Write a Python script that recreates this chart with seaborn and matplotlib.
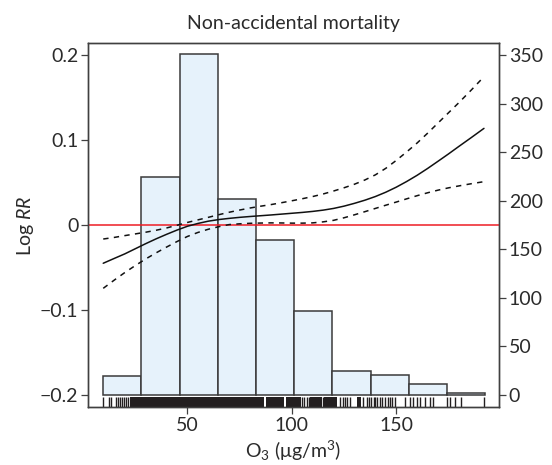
import numpy as np
import matplotlib
matplotlib.use("Agg")
import matplotlib.pyplot as plt
import seaborn as sns

# Exposure-response curve for O3 (log relative risk, with 95% CI)
o3 = [9.7, 15, 20, 25, 30, 35, 40, 45, 50, 55, 60, 65, 70, 75, 80, 85, 90,
      95, 100, 105, 110, 115, 120, 125, 130, 135, 140, 145, 150, 155, 160,
      165, 170, 175, 180, 186, 192]
log_rr = [-0.0450, -0.0393, -0.0340, -0.0280, -0.0220, -0.0163, -0.0110,
          -0.0060, -0.0015, 0.0018, 0.0045, 0.0064, 0.0078, 0.0090, 0.0100,
          0.0109, 0.0118, 0.0128, 0.0138, 0.0148, 0.0160, 0.0175, 0.0195,
          0.0222, 0.0255, 0.0292, 0.0335, 0.0386, 0.0445, 0.0512, 0.0585,
          0.0665, 0.0750, 0.0836, 0.0925, 0.1030, 0.1137]
ci_upper = [-0.0165, -0.0146, -0.0125, -0.0105, -0.0085, -0.0062, -0.0035,
            -0.0003, 0.0030, 0.0060, 0.0090, 0.0121, 0.0150, 0.0176, 0.0200,
            0.0221, 0.0240, 0.0262, 0.0285, 0.0309, 0.0335, 0.0365, 0.0400,
            0.0438, 0.0480, 0.0530, 0.0590, 0.0667, 0.0760, 0.0860, 0.0965,
            0.1080, 0.1200, 0.1320, 0.1440, 0.1590, 0.1745]
ci_lower = [-0.0745, -0.0648, -0.0560, -0.0478, -0.0400, -0.0328, -0.0260,
            -0.0195, -0.0135, -0.0088, -0.0050, -0.0020, 0.0005, 0.0014,
            0.0020, 0.0023, 0.0025, 0.0024, 0.0022, 0.0022, 0.0025, 0.0037,
            0.0055, 0.0085, 0.0120, 0.0157, 0.0195, 0.0233, 0.0270, 0.0308,
            0.0345, 0.0379, 0.0410, 0.0437, 0.0460, 0.0486, 0.0510]

# Histogram of daily O3 concentrations (right axis, number of days)
hist_edges = [9.7, 28.0, 46.3, 64.6, 82.9, 101.2, 119.4, 137.7, 156.0,
              174.3, 192.6]
hist_counts = [19, 224, 351, 202, 160, 86, 25, 21, 11, 2]

# Rug: single observations and runs that merge into solid blocks
rug_ticks = [9.7, 12.5, 13.4, 15.6, 16.6, 17.6, 18.6, 19.6, 20.6, 21.6,
             105.0, 106.0, 107.1, 108.0, 114.7, 123.0, 124.5, 125.5, 126.3,
             127.8, 134.0, 136.0, 136.8, 138.0, 139.2, 140.0, 140.8, 142.0,
             143.0, 144.6, 145.9, 147.0, 147.8, 149.4, 154.2, 156.6, 158.2,
             159.8, 161.4, 163.8, 166.2, 167.8, 174.2, 175.8, 178.2, 181.0,
             192.2]
rug_blocks = [(22.3, 86.6), (87.4, 96.3), (97.1, 104.2), (108.7, 114.3),
              (115.2, 121.5), (131.0, 133.2)]

sns.set_theme(style="ticks")
plt.rcParams["font.family"] = ["Lato", "DejaVu Sans"]
plt.rcParams["mathtext.fontset"] = "custom"
plt.rcParams["mathtext.rm"] = "Lato"
plt.rcParams["mathtext.it"] = "Lato:italic"
plt.rcParams["lines.dashed_pattern"] = [3.5, 3.5]

ink = "#2b2b2b"
fs = 14
fig = plt.figure(figsize=(5.52, 4.65), dpi=100)
ax = fig.add_axes([0.1594, 0.1237, 0.7446, 0.7832])
ax2 = ax.twinx()
ax.set_zorder(ax2.get_zorder() + 1)
ax.patch.set_visible(False)

# histogram
bin_mid = [(a + b) / 2 for a, b in zip(hist_edges[:-1], hist_edges[1:])]
sns.histplot(x=bin_mid, weights=hist_counts, bins=hist_edges, ax=ax2,
             color="#e6f2fb", edgecolor="#3a3a3a", linewidth=1.1, alpha=1)

# curves
ax.axhline(0, color="#ee1c25", lw=1.1)
sns.lineplot(x=o3, y=log_rr, ax=ax, color="#111111", lw=1.1)
sns.lineplot(x=o3, y=ci_upper, ax=ax, color="#111111", lw=1.1, ls="--")
sns.lineplot(x=o3, y=ci_lower, ax=ax, color="#111111", lw=1.1, ls="--")

# rug
sns.rugplot(x=rug_ticks, ax=ax, height=0.03, color="#231f20", lw=0.8,
            expand_margins=False)
for a, b in rug_blocks:
    ax.axvspan(a, b, ymin=0, ymax=0.03, color="#231f20", lw=0)

ax.set_xlim(2.4, 199.2)
ax.set_ylim(-0.2147, 0.2138)
ax2.set_ylim(-12.9, 362)

ax.set_xticks([50, 100, 150])
ax.set_yticks([-0.2, -0.1, 0, 0.1, 0.2])
ax.set_yticklabels(["\u22120.2", "\u22120.1", "0", "0.1", "0.2"])
ax2.set_yticks([0, 50, 100, 150, 200, 250, 300, 350])

for a in (ax, ax2):
    for s in a.spines.values():
        s.set_visible(True)
        s.set_color("#404040")
        s.set_linewidth(1.0)
    a.tick_params(direction="out", length=5, width=0.9, color="#404040",
                  labelsize=fs, labelcolor=ink, pad=2)

ax.set_xlabel("O$_3$ (\u03bcg/m$^3$)", fontsize=fs, color=ink, labelpad=3)
ax.set_ylabel("Log $\\it{RR}$", fontsize=fs, color=ink, labelpad=3)
ax2.set_ylabel("")
ax.set_title("Non-accidental mortality", fontsize=fs, color=ink, pad=10)

fig.savefig("out.png", dpi=100)
